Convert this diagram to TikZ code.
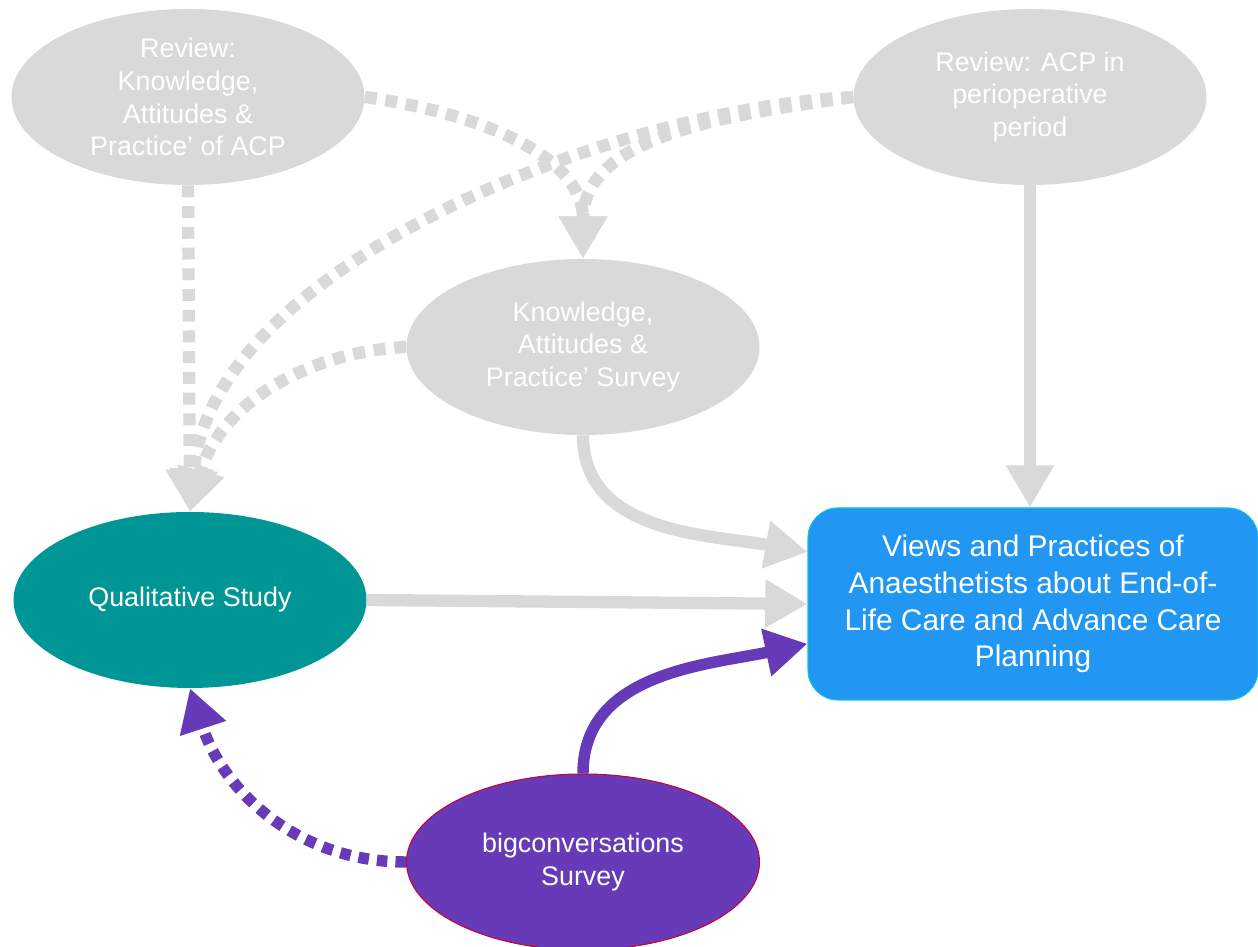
\documentclass[tikz,border=0pt]{standalone}
\usepackage{fontspec}
\setmainfont{Liberation Sans}
\definecolor{lightgrey}{RGB}{217,217,217}
\definecolor{tealgreen}{RGB}{0,150,150}
\definecolor{deeppurple}{RGB}{103,58,183}
\definecolor{skyblue}{RGB}{33,150,243}
\definecolor{edgecyan}{RGB}{20,190,220}
\usetikzlibrary{shapes.geometric, arrows.meta, positioning, calc}

\begin{document}
\begin{tikzpicture}[
    >={Triangle[length=24pt,width=26pt]},
    font=\fontsize{15.3}{18.7}\selectfont,
    ellnode/.style={ellipse, minimum width=7.06cm, minimum height=3.52cm, inner sep=0pt, align=center, text=white},
    reviewnode/.style={ellnode, fill=lightgrey},
    qualnode/.style={ellnode, fill=tealgreen},
    bignode/.style={ellnode, fill=deeppurple, draw=purple!80!red, line width=0.6pt},
    outnode/.style={rectangle, rounded corners=0.6cm, fill=skyblue, draw=edgecyan, line width=0.6pt, minimum width=9cm, minimum height=3.84cm, align=center, text=white, font=\fontsize{17}{20.9}\selectfont},
    grayline/.style={->, draw=lightgrey, line width=7pt},
    graydot/.style={grayline, dash pattern=on 6.8pt off 5pt},
    purpleline/.style={->, draw=deeppurple, line width=6.5pt},
    purpledot/.style={purpleline, dash pattern=on 6pt off 4.6pt}
  ]
  \useasboundingbox (0,0) rectangle (25.16,18.94);

  \node (rev_kap) [reviewnode] at (3.76,17.0) {Review:\\Knowledge,\\Attitudes \&\\Practice’ of ACP};
  \node (rev_acp) [reviewnode] at (20.6,17.0) {Review: ACP in\\perioperative\\period};
  \node (kap_survey) [reviewnode] at (11.66,12.0) {Knowledge,\\Attitudes \&\\Practice’ Survey};
  \node (qual) [qualnode] at (3.8,6.94) {Qualitative Study};
  \node (bigconv) [bignode] at (11.66,1.7) {bigconversations\\Survey};
  \node (views) [outnode] at (20.66,6.86) {Views and Practices of\\Anaesthetists about End-of-\\Life Care and Advance Care\\Planning};

  \draw[graydot] (rev_kap.south) -- (qual.north);
  \draw[graydot] (rev_kap.east) to[out=-8, in=90] (kap_survey.north);
  \draw[graydot] (rev_acp.west) to[out=188, in=90] (kap_survey.north);
  \draw[graydot] (rev_acp.west) to[out=183, in=85, looseness=0.8] (qual.north);
  \draw[graydot] (kap_survey.west) to[out=183, in=75] (qual.north);

  \draw[grayline] (rev_acp.south) -- (rev_acp.south |- views.north);
  \draw[grayline] (kap_survey.south) to[out=-90, in=170] (views.167);
  \draw[grayline] (qual.east) -- (views.west);

  \draw[purpleline] (bigconv.north) to[out=90, in=192] (views.190);
  \draw[purpledot] (bigconv.west) to[out=180, in=-72] (qual.south);

\end{tikzpicture}
\end{document}
